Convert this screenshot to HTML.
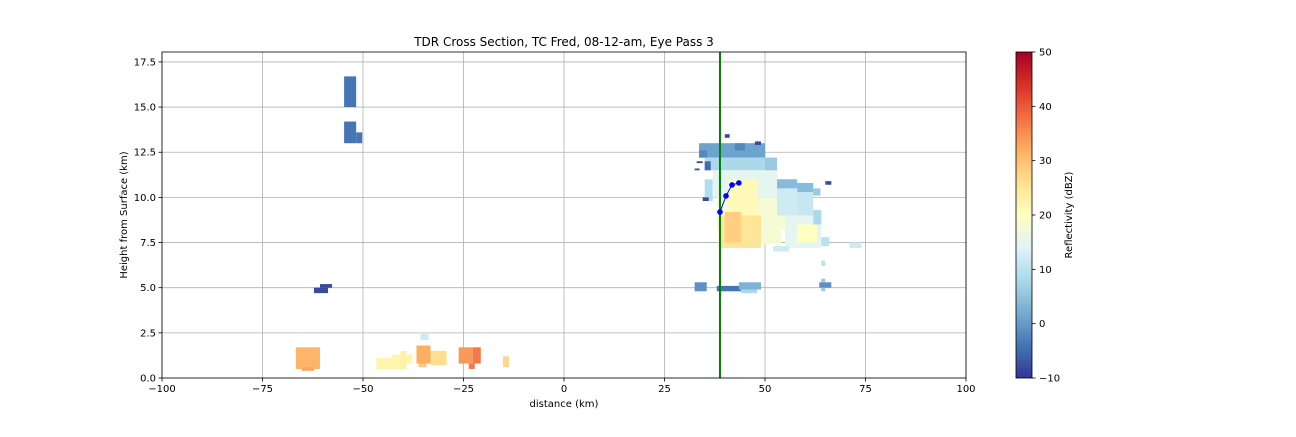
<!DOCTYPE html>
<html><head><meta charset="utf-8"><style>
body{margin:0;background:#fff;width:1296px;height:432px;overflow:hidden}
svg text{font-family:"DejaVu Sans","Liberation Sans",sans-serif;font-size:10px;fill:#000}
svg text.title{font-size:12px}
</style></head><body>
<svg id="chart" width="1296" height="432" xmlns="http://www.w3.org/2000/svg">
<defs><linearGradient id="cg" x1="0" y1="1" x2="0" y2="0">
<stop offset="0" stop-color="#313695"/><stop offset="0.1" stop-color="#4575b4"/><stop offset="0.2" stop-color="#74add1"/><stop offset="0.3" stop-color="#abd9e9"/><stop offset="0.4" stop-color="#e0f3f8"/><stop offset="0.5" stop-color="#ffffbf"/><stop offset="0.6" stop-color="#fee090"/><stop offset="0.7" stop-color="#fdae61"/><stop offset="0.8" stop-color="#f46d43"/><stop offset="0.9" stop-color="#d73027"/><stop offset="1" stop-color="#a50026"/></linearGradient></defs>
<g id="grid"></g><g id="cells"></g><g id="marks"></g><g id="axes"></g>
</svg>
<script>
// cells: [x0_km, x1_km, y0_km, y1_km, dBZ]
const cells = [
[-54.7,-51.7,15.0,16.7,-4],[-54.7,-51.7,13.0,14.2,-4],[-51.7,-50.2,13.0,13.6,-4],
[-62.2,-58.7,4.7,5.0,-8],[-60.7,-57.7,5.0,5.2,-8],
[-66.7,-60.7,0.5,1.7,31],[-65.2,-62.2,0.4,0.6,33],
[-46.7,-40.7,0.5,1.1,22],[-42.7,-37.7,0.8,1.3,22],[-40.7,-39.2,0.5,1.5,23],
[-36.7,-33.2,0.8,1.8,32],[-33.2,-29.2,0.7,1.5,26],[-35.7,-33.7,2.1,2.5,12],[-36.2,-34.2,0.6,0.8,29],
[-26.2,-22.7,0.8,1.7,34],[-22.7,-20.7,0.8,1.7,37],[-23.7,-22.2,0.5,0.8,37],
[-15.2,-13.7,0.6,1.2,27],
[33.6,50.0,12.2,13.0,1],[33.6,35.6,12.2,12.6,-2],[42.5,45.0,12.6,13.0,-2],
[35.0,52.0,11.5,12.2,8],[50.0,53.0,11.0,12.2,6],
[35.0,37.0,9.8,11.0,9],[37.0,53.0,10.0,11.5,15],
[38.0,55.0,8.2,10.0,18],[41.0,48.0,9.0,11.0,21],
[53.0,58.0,9.0,11.0,12],[53.0,58.0,10.5,11.0,4],[58.0,62.0,9.0,10.3,11],[58.0,62.0,10.3,10.8,4],[62.0,63.8,10.1,10.5,6],
[55.0,64.0,7.2,9.0,15],[58.0,63.0,7.5,8.5,20],[62.0,64.0,8.5,9.3,8],[64.0,66.0,7.3,7.8,10],
[38.5,49.0,7.2,9.0,25],[40.0,44.0,7.5,9.2,28],[49.0,54.0,7.4,8.2,18],
[52.0,56.0,7.0,7.3,12],[71.0,74.0,7.2,7.5,12],[64.0,65.0,6.2,6.5,10],
[32.5,35.5,4.8,5.3,-1],[38.0,45.0,4.8,5.1,-4],[43.5,49.0,4.9,5.3,3],[44.0,48.0,4.7,4.9,8],
[63.5,66.5,5.0,5.3,-1],[64.0,65.0,5.3,5.5,6],[64.0,65.0,4.8,5.0,6],
[33.0,34.5,11.9,12.0,-8],[32.5,33.7,11.5,11.6,-8],[35.0,36.5,11.5,12.0,-5],[34.5,36.0,9.8,10.0,-8],
[40.0,41.2,13.3,13.5,-8],[47.5,49.0,12.9,13.1,-8],[65.0,66.5,10.7,10.9,-8]
];
const trackX=[38.8,40.3,41.8,43.5], trackY=[9.19,10.08,10.69,10.8];
const eyeX=[38.8];
const xTicks=[-100,-75,-50,-25,0,25,50,75,100];
const yTicks=[0,2.5,5,7.5,10,12.5,15,17.5];
const cbTicks=[-10,0,10,20,30,40,50];

const L=162,R=966,T=52,B=378,xmin=-100,xmax=100,ymin=0,ymax=18.05;
const sx=v=>L+(v-xmin)/(xmax-xmin)*(R-L), sy=v=>B-(v-ymin)/(ymax-ymin)*(B-T);
const stops=["#313695","#4575b4","#74add1","#abd9e9","#e0f3f8","#ffffbf","#fee090","#fdae61","#f46d43","#d73027","#a50026"];
function cmap(d){let t=Math.max(0,Math.min(1,(d+10)/60))*10;let i=Math.min(9,Math.floor(t)),f=t-i;
 const a=stops[i],b=stops[i+1];const c=k=>Math.round(parseInt(a.substr(k,2),16)*(1-f)+parseInt(b.substr(k,2),16)*f);
 return `rgb(${c(1)},${c(3)},${c(5)})`;}
const NS="http://www.w3.org/2000/svg";
function mk(p,tag,at,txt){const e=document.createElementNS(NS,tag);for(const k in at)e.setAttribute(k,at[k]);if(txt!==undefined)e.textContent=txt;document.getElementById(p).appendChild(e);return e;}
xTicks.forEach(v=>{const e=mk('grid','line',{x1:sx(v),x2:sx(v),y1:T,y2:B,stroke:'#b0b0b0','stroke-width':0.8});

});
yTicks.forEach(v=>{const e=mk('grid','line',{x1:L,x2:R,y1:sy(v),y2:sy(v),stroke:'#b0b0b0','stroke-width':0.8});

});
cells.forEach(c=>{const e=mk('cells','rect',{x:sx(c[0]),y:sy(c[3]),width:sx(c[1])-sx(c[0]),height:sy(c[2])-sy(c[3]),fill:cmap(c[4])});

});
eyeX.forEach(v=>{const e=mk('marks','line',{x1:sx(v),x2:sx(v),y1:T,y2:B,stroke:'#008000','stroke-width':2});

});
const pl=mk('marks','polyline',{points:trackX.map((x,i)=>sx(x)+','+sy(trackY[i])).join(' '),fill:'none',stroke:'#0000ff','stroke-width':1});


trackX.forEach((x,i)=>{const e=mk('marks','circle',{cx:sx(x),cy:sy(trackY[i]),r:2.8,fill:'#0000ff'});

});
const fr=mk('axes','rect',{x:L,y:T,width:R-L,height:B-T,fill:'none',stroke:'#000','stroke-width':0.8});


xTicks.forEach(v=>{mk('axes','line',{x1:sx(v),x2:sx(v),y1:B,y2:B+3.5,stroke:'#000','stroke-width':0.8});
const t=mk('axes','text',{x:sx(v),y:B+14,'text-anchor':'middle'},v<0?'\u2212'+(-v):String(v));

});
yTicks.forEach(v=>{mk('axes','line',{x1:L-3.5,x2:L,y1:sy(v),y2:sy(v),stroke:'#000','stroke-width':0.8});
const t=mk('axes','text',{x:L-6,y:sy(v)+3.5,'text-anchor':'end'},v.toFixed(1));

});
let t=mk('axes','text',{x:(L+R)/2,y:407,'text-anchor':'middle'},'distance (km)');


t=mk('axes','text',{x:127,y:(T+B)/2,'text-anchor':'middle',transform:`rotate(-90 127 ${(T+B)/2})`},'Height from Surface (km)');


t=mk('axes','text',{x:(L+R)/2,y:46,'text-anchor':'middle','class':'title'},'TDR Cross Section, TC Fred, 08-12-am, Eye Pass 3');


const cb=mk('axes','rect',{x:1016,y:T,width:16,height:B-T,fill:'url(#cg)',stroke:'#000','stroke-width':0.8});


cbTicks.forEach(v=>{const y=B-(v+10)/60*(B-T);mk('axes','line',{x1:1032,x2:1035.5,y1:y,y2:y,stroke:'#000','stroke-width':0.8});
const e=mk('axes','text',{x:1039,y:y+3.5},v<0?'\u2212'+(-v):String(v));

});
t=mk('axes','text',{x:1072,y:(T+B)/2,'text-anchor':'middle',transform:`rotate(-90 1072 ${(T+B)/2})`},'Reflectivity (dBZ)');


</script>
</body></html>
